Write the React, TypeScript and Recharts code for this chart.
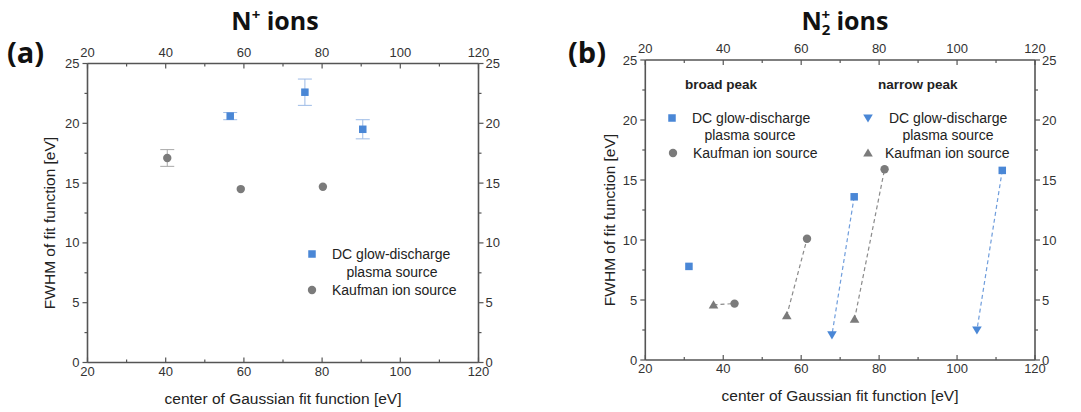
import React from 'react';
import { ScatterChart, Scatter, XAxis, YAxis, ErrorBar, ReferenceLine } from 'recharts';

// ---------- shared axis ticks ----------
const xTicks = [20, 30, 40, 50, 60, 70, 80, 90, 100, 110, 120];
const yTicks = [0, 2.5, 5, 7.5, 10, 12.5, 15, 17.5, 20, 22.5, 25];

// ---------- panel (a): N+ ions ----------
const nDcX = [56.5, 75.6, 90.4];
const nDcY = [20.6, 22.6, 19.5];
const nDcErrLow = [0.3, 1.1, 0.8];
const nDcErrHigh = [0.3, 1.1, 0.8];
const nKaufX = [40.4, 59.2, 80.2];
const nKaufY = [17.1, 14.5, 14.7];
const nKaufErrLow = [0.7, 0, 0];
const nKaufErrHigh = [0.7, 0, 0];

// ---------- panel (b): N2+ ions ----------
const broadDcX = [31.2, 73.6, 111.6];
const broadDcY = [7.8, 13.6, 15.8];
const broadKaufX = [42.9, 61.5, 81.4];
const broadKaufY = [4.7, 10.1, 15.9];
const narrowDcX = [67.9, 105.1];
const narrowDcY = [2.1, 2.5];
const narrowKaufX = [37.5, 56.3, 73.7];
const narrowKaufY = [4.6, 3.7, 3.4];
// connections (broad index -> narrow index)
const dcPairs = [[1, 0], [2, 1]];
const kaufPairs = [[0, 0], [1, 1], [2, 2]];

const BLUE = '#4a87d6';
const GREY = '#7b7b7b';
const AXIS = '#555555';
const FONT = '"Liberation Sans", Arial, sans-serif';
const TITLE_FONT = '"Open Sans", "Liberation Sans", sans-serif';

const nDcData = nDcX.map((x, i) => ({ x, y: nDcY[i], err: [nDcErrLow[i], nDcErrHigh[i]] }));
const nKaufData = nKaufX.map((x, i) => ({ x, y: nKaufY[i], err: [nKaufErrLow[i], nKaufErrHigh[i]] }));
const nDcErrData = nDcData.filter((d) => d.err[0] + d.err[1] > 0);
const nKaufErrData = nKaufData.filter((d) => d.err[0] + d.err[1] > 0);
const broadDcData = broadDcX.map((x, i) => ({ x, y: broadDcY[i] }));
const broadKaufData = broadKaufX.map((x, i) => ({ x, y: broadKaufY[i] }));
const narrowDcData = narrowDcX.map((x, i) => ({ x, y: narrowDcY[i] }));
const narrowKaufData = narrowKaufX.map((x, i) => ({ x, y: narrowKaufY[i] }));

const SquareShape = (p: any) => <rect x={p.cx - 3.75} y={p.cy - 3.75} width={7.5} height={7.5} fill={BLUE} />;
const CircleShape = (p: any) => <circle cx={p.cx} cy={p.cy} r={4.2} fill={GREY} />;
const NoShape = () => <g />;
const TriUpShape = (p: any) => (
  <polygon points={`${p.cx - 4.8},${p.cy + 3.6} ${p.cx + 4.8},${p.cy + 3.6} ${p.cx},${p.cy - 4.6}`} fill={GREY} />
);
const TriDownShape = (p: any) => (
  <polygon points={`${p.cx - 4.8},${p.cy - 3.6} ${p.cx + 4.8},${p.cy - 3.6} ${p.cx},${p.cy + 4.6}`} fill={BLUE} />
);

type Side = 'bottom' | 'top' | 'left' | 'right';
const makeTick = (side: Side, step: number) => (props: any) => {
  const { x, y, payload } = props;
  const v = payload.value;
  const major = Math.abs(v / step - Math.round(v / step)) < 1e-6;
  const len = major ? 5 : 3;
  const common = { fontFamily: FONT, fontSize: 13, fill: '#333' };
  if (side === 'bottom')
    return (
      <g>
        <line x1={x} x2={x} y1={y} y2={y - len} stroke={AXIS} strokeWidth={1.2} />
        {major && <text x={x} y={y + 13} textAnchor="middle" {...common}>{v}</text>}
      </g>
    );
  if (side === 'top')
    return (
      <g>
        <line x1={x} x2={x} y1={y} y2={y + len} stroke={AXIS} strokeWidth={1.2} />
        {major && <text x={x} y={y - 7} textAnchor="middle" {...common}>{v}</text>}
      </g>
    );
  if (side === 'left')
    return (
      <g>
        <line x1={x} x2={x - len} y1={y} y2={y} stroke={AXIS} strokeWidth={1.2} />
        {major && <text x={x - 8} y={y + 4.5} textAnchor="end" {...common}>{v}</text>}
      </g>
    );
  return (
    <g>
      <line x1={x} x2={x + len} y1={y} y2={y} stroke={AXIS} strokeWidth={1.2} />
      {major && <text x={x + 7} y={y + 4.5} textAnchor="start" {...common}>{v}</text>}
    </g>
  );
};

const axisLine = { stroke: AXIS, strokeWidth: 1.6 };

function renderAxes() {
  return [
    <XAxis key="xb" xAxisId="bottom" type="number" dataKey="x" domain={[20, 120]} ticks={xTicks} orientation="bottom"
      height={20} tickSize={0} tickMargin={0} interval={0} tickLine={false} axisLine={axisLine}
      tick={makeTick('bottom', 20)} allowDataOverflow />,
    <XAxis key="xt" xAxisId="top" type="number" dataKey="x" domain={[20, 120]} ticks={xTicks} orientation="top"
      height={20} tickSize={0} tickMargin={0} interval={0} tickLine={false} axisLine={axisLine}
      tick={makeTick('top', 20)} allowDataOverflow />,
    <YAxis key="yl" yAxisId="left" type="number" dataKey="y" domain={[0, 25]} ticks={yTicks} orientation="left"
      width={30} tickSize={0} tickMargin={0} interval={0} tickLine={false} axisLine={axisLine}
      tick={makeTick('left', 5)} allowDataOverflow />,
    <YAxis key="yr" yAxisId="right" type="number" dataKey="y" domain={[0, 25]} ticks={yTicks} orientation="right"
      width={30} tickSize={0} tickMargin={0} interval={0} tickLine={false} axisLine={axisLine}
      tick={makeTick('right', 5)} allowDataOverflow />,
  ];
}

const PanelA = () => (
  <ScatterChart width={540} height={412} margin={{ top: 43.5, bottom: 29.5, left: 57.5, right: 31.5 }}>
    {renderAxes()}
    <Scatter xAxisId="bottom" yAxisId="left" data={nKaufErrData} shape={NoShape} isAnimationActive={false}>
      <ErrorBar dataKey="err" direction="y" width={7} stroke="#a8a8a8" strokeWidth={1} />
    </Scatter>
    <Scatter xAxisId="bottom" yAxisId="left" data={nDcErrData} shape={NoShape} isAnimationActive={false}>
      <ErrorBar dataKey="err" direction="y" width={7} stroke="#9dbbe6" strokeWidth={1} />
    </Scatter>
    <Scatter xAxisId="bottom" yAxisId="left" data={nKaufData} shape={CircleShape} isAnimationActive={false} />
    <Scatter xAxisId="bottom" yAxisId="left" data={nDcData} shape={SquareShape} isAnimationActive={false} />
  </ScatterChart>
);

const PanelB = () => (
  <ScatterChart width={541} height={412} margin={{ top: 40, bottom: 32, left: 75.3, right: 16 }}>
    {renderAxes()}
    {kaufPairs.map(([b, n], i) => (
      <ReferenceLine key={'k' + i} xAxisId="bottom" yAxisId="left" ifOverflow="visible"
        segment={[{ x: narrowKaufX[n], y: narrowKaufY[n] }, { x: broadKaufX[b], y: broadKaufY[b] }]}
        stroke="#8a8a8a" strokeWidth={1.2} strokeDasharray="4 3" />
    ))}
    {dcPairs.map(([b, n], i) => (
      <ReferenceLine key={'d' + i} xAxisId="bottom" yAxisId="left" ifOverflow="visible"
        segment={[{ x: broadDcX[b], y: broadDcY[b] }, { x: narrowDcX[n], y: narrowDcY[n] }]}
        stroke="#6f9ddc" strokeWidth={1.2} strokeDasharray="4 3" />
    ))}
    <Scatter xAxisId="bottom" yAxisId="left" data={broadKaufData} shape={CircleShape} isAnimationActive={false} />
    <Scatter xAxisId="bottom" yAxisId="left" data={narrowKaufData} shape={TriUpShape} isAnimationActive={false} />
    <Scatter xAxisId="bottom" yAxisId="left" data={broadDcData} shape={SquareShape} isAnimationActive={false} />
    <Scatter xAxisId="bottom" yAxisId="left" data={narrowDcData} shape={TriDownShape} isAnimationActive={false} />
  </ScatterChart>
);

const Overlay = () => {
  const t = { fontFamily: FONT, fontSize: 14, fill: '#222' };
  const axT = { fontFamily: FONT, fontSize: 15.5, fill: '#222' };
  return (
    <svg width={1081} height={412} style={{ position: 'absolute', left: 0, top: 0, pointerEvents: 'none' }}>
      {/* titles */}
      <text x={275} y={30} textAnchor="middle" fontFamily={TITLE_FONT} fontWeight="bold" fontSize={25} fill="#111">
        N<tspan fontSize={15} dy={-10}>+</tspan><tspan dy={10}> ions</tspan>
      </text>
      <text x={845} y={30} textAnchor="middle" fontFamily={TITLE_FONT} fontWeight="bold" fontSize={25} fill="#111">
        N<tspan fontSize={15} dy={5}>2</tspan><tspan fontSize={15} dx={-9} dy={-15}>+</tspan><tspan dy={10}> ions</tspan>
      </text>
      <text x={7} y={63} fontFamily={TITLE_FONT} fontWeight="bold" fontSize={29} fill="#111">(a)</text>
      <text x={568} y={63} fontFamily={TITLE_FONT} fontWeight="bold" fontSize={29} fill="#111">(b)</text>

      {/* axis titles */}
      <text x={283} y={404} textAnchor="middle" {...axT}>center of Gaussian fit function [eV]</text>
      <text x={840} y={401} textAnchor="middle" {...axT}>center of Gaussian fit function [eV]</text>
      <text transform="translate(55,223) rotate(-90)" textAnchor="middle" {...axT}>FWHM of fit function [eV]</text>
      <text transform="translate(615,220) rotate(-90)" textAnchor="middle" {...axT}>FWHM of fit function [eV]</text>

      {/* legend (a) */}
      <rect x={308.25} y={250.25} width={7.5} height={7.5} fill={BLUE} />
      <text x={332} y={259} {...t}>DC glow-discharge</text>
      <text x={392} y={277} textAnchor="middle" {...t}>plasma source</text>
      <circle cx={312} cy={290} r={4.2} fill={GREY} />
      <text x={332} y={295} {...t}>Kaufman ion source</text>

      {/* legend (b) */}
      <text x={685} y={89} fontFamily={FONT} fontWeight="bold" fontSize={13.5} fill="#222">broad peak</text>
      <text x={878} y={89} fontFamily={FONT} fontWeight="bold" fontSize={13.5} fill="#222">narrow peak</text>
      <rect x={668.25} y={114.25} width={7.5} height={7.5} fill={BLUE} />
      <text x={692} y={123} {...t}>DC glow-discharge</text>
      <text x={750} y={140} textAnchor="middle" {...t}>plasma source</text>
      <circle cx={673} cy={153} r={4.2} fill={GREY} />
      <text x={693} y={158} {...t}>Kaufman ion source</text>
      <polygon points="863.2,114.4 872.8,114.4 868,122.6" fill={BLUE} />
      <text x={889} y={123} {...t}>DC glow-discharge</text>
      <text x={948} y={140} textAnchor="middle" {...t}>plasma source</text>
      <polygon points="863.2,156.6 872.8,156.6 868,148.4" fill={GREY} />
      <text x={885} y={158} {...t}>Kaufman ion source</text>
    </svg>
  );
};

export default function App() {
  return (
    <div style={{ position: 'absolute', left: 0, top: 0, width: 1081, height: 412, background: '#fff' }}>
      <div style={{ position: 'absolute', left: 0, top: 0 }}>
        <PanelA />
      </div>
      <div style={{ position: 'absolute', left: 540, top: 0 }}>
        <PanelB />
      </div>
      <Overlay />
    </div>
  );
}
